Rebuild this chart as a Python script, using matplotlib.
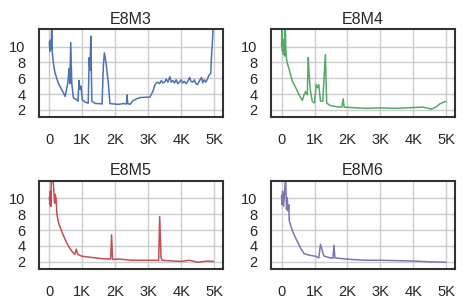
import matplotlib
matplotlib.use("Agg")
import matplotlib.pyplot as plt
from matplotlib.ticker import FuncFormatter

# loss curves
m3_steps = [0, 15, 30, 45, 60, 75, 90, 120, 170, 270, 370, 480, 530, 560, 580, 600, 620, 650, 680,
            730, 830, 870, 900, 930, 960, 1000, 1080, 1180, 1210, 1230, 1260, 1290, 1400, 1500, 1600,
            1640, 1670, 1720, 1790, 1840, 1950, 2100, 2250, 2340, 2360, 2380, 2450, 2550, 2650, 2750,
            2900, 3050, 3100, 3150, 3200, 3250, 3300, 3350, 3400, 3450, 3500, 3550, 3600, 3660, 3700,
            3750, 3800, 3850, 3900, 3950, 4000, 4050, 4100, 4150, 4200, 4260, 4300, 4350, 4400, 4450,
            4500, 4550, 4620, 4660, 4700, 4750, 4800, 4850, 4900, 4920, 4950, 4980]
m3_loss = [10.5, 9.4, 10.8, 9.6, 10.4, 12.8, 9.3, 8.0, 6.7, 5.4, 4.6, 3.7, 4.8, 5.4, 6.3, 7.2, 5.3, 10.5, 5.4,
           3.5, 3.3, 3.1, 5.7, 4.6, 5.0, 3.3, 3.0, 2.85, 8.6, 7.0, 11.3, 3.1, 2.8, 2.8, 2.75,
           7.5, 9.2, 8.0, 5.4, 2.8, 2.75, 2.7, 2.8, 2.75, 3.9, 2.8, 2.7, 3.2, 3.4, 3.55,
           3.6, 3.6, 4.0, 4.4, 5.1, 5.4, 5.5, 5.3, 5.7, 5.4, 5.5, 5.9, 5.5, 6.2, 5.5,
           5.7, 5.4, 5.8, 5.3, 5.5, 5.8, 5.4, 5.6, 5.3, 5.6, 6.1, 5.6, 5.5, 5.8, 5.3,
           5.2, 5.6, 6.1, 5.4, 5.8, 5.5, 5.9, 6.4, 6.6, 8.5, 10.5, 13.0]

m4_steps = [0, 10, 25, 40, 55, 75, 95, 110, 130, 150, 180, 230, 330, 430, 530, 630, 680, 730,
            780, 810, 840, 870, 930, 1000, 1050, 1090, 1130, 1180, 1250, 1330, 1370, 1480, 1680, 1830,
            1870, 1900, 2130, 2530, 3000, 3500, 4000, 4300, 4450, 4550, 4600, 4700, 4800, 4900, 4980]
m4_loss = [10.1, 12.8, 9.4, 10.9, 9.0, 10.2, 8.8, 12.8, 9.5, 8.4, 7.8, 7.1, 5.6, 4.8, 3.9, 3.2, 3.9, 4.3,
           3.9, 8.6, 6.3, 4.6, 3.1, 2.9, 5.2, 4.8, 5.2, 3.1, 3.1, 9.0, 2.85, 2.55, 2.4, 2.35,
           3.4, 2.35, 2.3, 2.2, 2.25, 2.2, 2.3, 2.35, 2.2, 2.1, 2.2, 2.4, 2.75, 2.95, 3.05]

m5_steps = [0, 15, 30, 45, 60, 80, 100, 130, 160, 180, 205, 230, 280, 380, 480, 590, 690, 770, 820, 860,
            990, 1290, 1600, 1860, 1890, 1920, 2100, 2500, 3000, 3320, 3350, 3390, 3420, 3600, 4000,
            4250, 4500, 4800, 4980]
m5_loss = [10.1, 9.2, 10.9, 9.0, 12.8, 12.5, 12.8, 11.4, 9.4, 10.5, 10.0, 8.0, 6.9, 5.8, 4.8, 3.9, 3.3, 2.95, 3.6, 2.95,
           2.7, 2.55, 2.4, 2.35, 5.4, 2.3, 2.35, 2.2, 2.2, 2.2, 7.7, 2.6, 2.2, 2.15, 2.05,
           2.2, 1.95, 2.1, 2.05]

m6_steps = [0, 15, 30, 60, 90, 120, 150, 170, 200, 220, 230, 280, 380, 480, 580, 680, 830, 1030, 1130,
            1180, 1230, 1280, 1430, 1560, 1590, 1620, 1830, 2130, 2530, 3000, 3500, 4000, 4500, 4980]
m6_loss = [10.3, 9.2, 10.9, 9.0, 10.7, 12.8, 8.6, 10.1, 8.4, 9.2, 7.3, 6.5, 5.4, 4.55, 3.7, 3.05, 2.85, 2.7, 2.5,
           4.2, 3.5, 2.75, 2.55, 2.45, 4.1, 2.5, 2.4, 2.3, 2.2, 2.2, 2.15, 2.1, 2.0, 1.95]

titles = ["E8M3", "E8M4", "E8M5", "E8M6"]
colors = ["#4C72B0", "#55A868", "#C44E52", "#8172B3"]
x_ticks = [0, 1000, 2000, 3000, 4000, 5000]
y_ticks = [2, 4, 6, 8, 10]

plt.rcParams["font.family"] = ["Liberation Sans", "DejaVu Sans"]
plt.rcParams["font.size"] = 10
plt.rcParams["text.color"] = "#262626"
plt.rcParams["xtick.color"] = "#262626"
plt.rcParams["ytick.color"] = "#262626"


def k_fmt(v, pos):
    return "0" if v == 0 else f"{int(v / 1000)}K"


fig, axes = plt.subplots(2, 2, figsize=(4.66, 3.06), dpi=100)
fig.subplots_adjust(left=0.084, right=0.976, top=0.905, bottom=0.121, wspace=0.266, hspace=0.727)

series = [(m3_steps, m3_loss), (m4_steps, m4_loss), (m5_steps, m5_loss), (m6_steps, m6_loss)]
for ax, (xs, ys), title, color in zip(axes.flat, series, titles, colors):
    ax.plot(xs, ys, color=color, lw=1.1)
    ax.set_title(title, fontsize=11.5, pad=4)
    ax.set_xlim(-310, 5260)
    ax.set_ylim(1.1, 12.2)
    ax.set_xticks(x_ticks)
    ax.set_yticks(y_ticks)
    ax.xaxis.set_major_formatter(FuncFormatter(k_fmt))
    ax.grid(True, color="#cccccc", lw=1.0)
    ax.set_axisbelow(True)
    ax.tick_params(axis="x", length=0, pad=11.5, labelsize=10.5)
    ax.tick_params(axis="y", length=0, pad=10, labelsize=10.5)
    for sp in ax.spines.values():
        sp.set_color("#333333")
        sp.set_linewidth(1.5)

fig.savefig("out.png", dpi=100, facecolor="white")
